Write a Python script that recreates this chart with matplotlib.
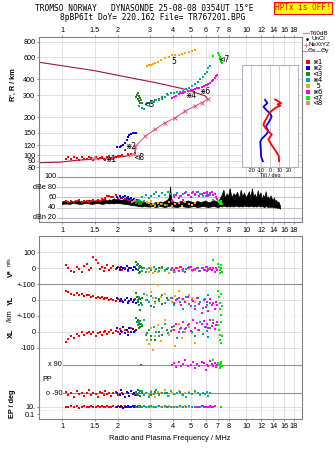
import matplotlib
matplotlib.use('Agg')
import matplotlib.pyplot as plt
from matplotlib.lines import Line2D
from matplotlib.ticker import NullLocator

nan = float('nan')

# ---------------- data ----------------
freq_ticks = [1, 1.5, 2, 3, 4, 5, 6, 7, 8, 10, 12, 14, 16, 18]
freq_labels = ['1', '1.5', '2', '3', '4', '5', '6', '7', '8', '10', '12', '14', '16', '18']
height_ticks = [80, 90, 100, 120, 150, 200, 300, 400, 600, 800]

# echo 1 (red)
f_red = [1.05,1.08,1.12,1.16,1.20,1.24,1.28,1.32,1.36,1.40,1.44,1.48,1.52,1.56,1.60,1.64,1.68,1.72,1.76,1.80,1.85,1.90,1.95,2.00,2.06,2.12,2.20,2.28,2.38,2.50]
h_red = [94,96,93,97,95,92,96,94,93,97,95,92,96,93,95,97,94,92,96,98,95,93,97,99,98,100,110,103,102,104]
db_red = [52,51,53,50,52,54,51,53,52,50,53,55,52,54,53,56,55,58,62,63,60,61,64,59,62,58,57,55,56,53]
v_red = [20,5,-15,-25,10,-5,-20,15,30,-10,5,69,52,35,-5,10,-15,0,20,-10,5,15,-5,10,0,-10,5,-15,0,10]
yl_red = [55,50,40,35,45,30,38,25,30,35,20,28,15,22,12,18,5,10,15,0,8,2,-5,5,0,-8,3,-10,0,5]
xl_red = [-65,-45,-30,-40,-15,-25,-5,-20,-10,0,-15,-5,-25,-10,0,-20,-5,5,-15,0,10,-10,5,-5,15,0,10,-5,20,5]
pp_red = [-80,-100,-90,-110,-75,-95,-85,-105,-90,-70,-100,-85,-95,-110,-80,-90,-100,-75,-95,-85,-105,-90,-80,-100,-95,-85,-110,-90,-75,-100]
ep_red = [10,7,14,9,12,6,11,15,8,10,13,7,10,16,9,12,8,11,14,10,7,12,9,15,10,8,13,11,9,12]

# echo 2 (blue)
f_blue = [1.99,2.05,2.10,2.15,2.20,2.25,2.28,2.32,2.37,2.42,2.47,2.52]
h_blue = [115,117,118,121,125,133,140,145,148,150,151,149]
db_blue = [60,62,59,61,63,58,60,57,59,55,57,54]
v_blue = [5,-10,10,0,-5,13,-8,5,0,-10,8,-3]
yl_blue = [10,-5,5,-15,0,14,-20,-5,8,-10,2,-18]
xl_blue = [20,-15,5,30,-10,10,-20,25,0,15,-5,10]
pp_blue = [-85,-100,-70,-95,-110,-80,-90,-105,-75,-95,-85,-100]
ep_blue = [10,8,12,6,11,9,13,7,10,12,8,10]

# echo 3 (dark green)
f_grn = [2.53,2.55,2.57,2.58,2.60,2.62,2.64,2.66,2.68,2.70,2.90,3.05,3.20,3.35,3.50,3.70]
h_grn = [290,300,310,280,295,270,285,262,275,258,262,267,272,280,288,305]
db_grn = [48,52,50,55,47,51,49,53,46,50,48,45,47,44,46,45]
v_grn = [40,20,-10,30,5,-30,15,-20,10,0,-5,5,-15,0,10,-5]
yl_grn = [42,20,-10,0,-30,15,-62,5,-20,10,0,-40,-15,5,-25,10]
xl_grn = [83,60,70,40,50,21,65,30,45,35,-10,-30,-52,0,-20,10]
pp_grn = [-80,-95,-70,-100,-85,-90,-75,-105,90,-85,-90,-100,-80,-95,-90,-85]
ep_grn = [10,8,12,9,11,7,10,13,9,10,11,8,10,12,9,10]

# echo 4 (cyan)
f_cyn = [2.62,2.70,2.78,2.86,2.95,3.05,3.15,3.25,3.36,3.48,3.60,3.75,3.90,4.05,4.20,4.36,4.52,4.70,4.88,5.06,5.25,5.45,5.62,5.80,5.95,6.10,6.22,6.33]
h_cyn = [245,238,232,253,258,262,266,272,276,282,292,302,312,313,316,319,325,335,345,352,365,385,400,416,438,458,490,515]
db_cyn = [55,60,52,64,58,62,66,70,63,68,65,71,67,64,69,62,66,70,64,68,65,71,67,63,69,66,62,64]
v_cyn = [10,-15,5,-20,0,-10,8,-5,-18,3,-12,5,-8,-20,0,10,-15,-5,8,-10,-2,5,-18,0,-8,10,-12,-5]
yl_cyn = [20,-30,40,0,-15,25,-45,10,-5,30,-20,0,15,-35,5,-10,-60,20,-25,0,-40,10,-15,-50,5,-30,35,-20]
xl_cyn = [60,40,73,-20,10,-52,30,0,-30,20,45,-10,5,35,-40,15,-5,25,50,0,-25,10,60,-15,30,5,-35,20]
pp_cyn = [-90,-75,-100,-85,-110,-80,-95,-70,-100,-90,-85,-105,-75,-95,-90,-80,-100,-110,-85,-95,-75,-90,-100,-85,-95,-80,-105,-90]
ep_cyn = [10,8,12,9,11,13,7,10,12,9,14,8,10,11,7,12,9,10,13,8,11,10,9,12,7,10,11,9]

# echo 5 (orange)
f_org = [2.88,2.95,3.02,3.10,3.20,3.33,3.45,3.62,3.78,3.94,4.10,4.28,4.45,4.65,4.85,5.06,5.27]
h_org = [510,518,525,535,545,554,570,590,605,620,625,630,640,652,660,670,688]
db_org = [50,48,52,46,44,49,47,45,51,43,46,48,44,50,47,45,49]
v_org = [-5,-20,0,-30,-10,-25,5,-15,-28,-8,-20,0,-12,-25,-5,-18,-10]
yl_org = [30,-10,50,10,-20,94,20,40,0,-15,25,60,5,-5,35,10,-10]
xl_org = [-50,-80,20,-114,-30,40,-60,73,-20,10,-90,50,-40,0,30,-10,-70]
pp_org = [-85,-100,-75,-95,-110,-80,-90,-70,-105,-85,-95,-75,-100,-90,-80,-95,-85]
ep_org = [10,12,8,11,9,13,10,7,12,9,11,10,8,12,10,9,11]

# echo 6 (magenta)
f_mag = [3.94,4.05,4.15,4.28,4.40,4.55,4.65,4.80,5.00,5.15,5.27,5.40,5.55,5.72,5.85,6.00,6.10,6.20,6.35,6.50,6.62,6.72,6.81,6.91]
h_mag = [287,290,298,305,310,314,318,322,328,332,335,340,345,351,356,360,363,367,375,386,397,410,423,432]
db_mag = [53,60,65,58,62,55,68,64,60,70,66,71,63,67,69,62,70,65,68,71,64,67,60,56]
v_mag = [5,-10,0,-15,10,-5,-20,0,8,-12,-3,5,-18,0,-8,10,-15,-5,3,-10,0,-20,5,-8]
yl_mag = [10,-20,0,15,-30,5,-10,20,-40,-5,-60,10,-25,-83,0,-45,-15,-70,5,-35,-20,-55,-10,-30]
xl_mag = [30,10,50,0,20,60,15,40,5,73,25,55,10,45,65,30,50,20,70,35,55,15,40,60]
pp_mag = [90,100,75,110,85,95,120,80,90,105,70,95,85,110,100,60,90,80,115,95,85,100,75,90]
ep_mag = [nan,nan,nan,nan,nan,nan,nan,nan,nan,nan,nan,10,8,12,10,9,11,10,13,8,10,12,nan,nan]

# echo 7 (bright green)
f_g7 = [6.62,7.05,7.10,7.15,7.20,7.25,7.30,7.35]
h_g7 = [610,645,625,600,585,570,555,545]
db_g7 = [55,52,50,48,47,53,50,46]
v_g7 = [50,30,10,-10,-30,20,0,-20]
yl_g7 = [100,60,20,-20,-60,-94,40,-40]
xl_g7 = [73,40,10,-20,-50,-73,60,-30]
pp_g7 = [120,100,90,80,70,95,110,85]
ep_g7 = [nan,nan,nan,nan,nan,nan,10,nan]

# echo 8 (salmon)
f_sal = [2.40,2.45,2.50,2.55]
h_sal = [100,102,101,99]
db_sal = [50,53,55,51]

# real-height profile (lower part, rising part, upper returning part)
prof_low_f = [0.75, 0.98, 1.20, 1.50, 1.80, 2.10, 2.40, 2.49, 2.49]
prof_low_h = [87, 88, 91, 93, 95, 97, 100, 104, 117]
prof_mid_f = [2.49, 2.82, 3.19, 3.62, 4.10, 4.65, 5.27, 5.72, 6.20]
prof_mid_h = [117, 141, 160, 181, 198, 224, 246, 262, 278]
prof_up_f = [6.20, 5.96, 5.27, 4.46, 3.19, 2.06, 1.51, 0.75]
prof_up_h = [278, 296, 315, 339, 378, 428, 469, 548]
prof_mark_f = [1.48, 1.53, 1.90, 2.35]
prof_mark_h = [95, 95, 96, 100]

# tilt inset
tilt_x_h = [280,270,262,256,250,240,224,210,198,185,175,165,160,153,146,140,133,127,121,115,110,105,100,95,89]
tilt_x = [5.5,9,12,8,11,6,1,-2,-3.5,-6,-7,-5,-3.5,-1,2,0,-1.8,0,1.5,3.5,5.3,7,8.8,9.5,9.8]
tilt_y_h = [278,262,245,231,217,204,186,170,155,146,135,127,110,97,89]
tilt_y = [-5.3,-2.8,-7,-4.2,0,1.8,-0.9,-4.2,-1.8,-4.2,-8.8,-10.5,-9.8,-9.5,-7.7]

# unclassified amplitude (black band in dB panel)
amp_f = [1.00,1.05,1.10,1.15,1.20,1.25,1.30,1.35,1.40,1.45,1.50,1.55,1.60,1.65,1.70,1.75,1.80,1.85,1.90,1.95,
         2.00,2.10,2.20,2.30,2.40,2.50,2.60,2.70,2.80,2.90,
         3.00,3.10,3.20,3.30,3.40,3.50,3.60,3.70,3.80,3.85,3.90,
         4.00,4.20,4.40,4.60,4.80,5.00,5.20,5.40,5.60,5.80,6.00,6.20,6.40,6.60,6.80,7.00,
         7.20,7.35,7.50,7.65,7.80,7.95,
         8.10,8.30,8.50,8.70,8.90,9.10,9.30,9.50,9.70,9.90,
         10.1,10.3,10.5,10.7,10.9,11.1,11.3,11.5,11.7,11.9,12.1,12.3,12.5,12.7,12.9,13.1,13.3,13.5,13.7,13.9,14.1,14.3,14.5,14.7,14.9,15.1,15.2]
amp_hi = [52,54,51,53,55,52,54,53,55,52,54,56,53,55,57,54,56,55,58,56,
          57,55,58,54,56,52,53,50,51,49,
          50,48,51,49,52,50,53,55,60,82,58,
          52,50,53,51,54,52,50,53,51,52,54,50,52,55,53,51,
          60,66,75,58,68,62,
          78,60,68,64,71,58,75,62,70,60,
          65,72,60,78,62,67,58,74,63,70,56,65,60,72,58,62,56,64,58,55,60,52,55,49,52,46,44]
amp_lo = [47,48,47,49,48,47,48,49,48,47,48,49,48,47,48,49,48,49,48,49,
          49,48,47,46,45,44,43,42,43,42,
          42,43,41,42,43,42,41,42,43,44,42,
          42,41,43,42,41,42,43,41,42,43,42,41,42,43,42,41,
          43,42,44,43,42,43,
          42,43,42,44,43,42,43,42,44,43,
          43,42,44,43,42,43,42,44,43,42,43,42,41,43,42,41,42,41,42,40,41,40,41,39,40,39,38]

# ---------------- figure ----------------
W, H = 335, 451
fig = plt.figure(figsize=(W / 100, H / 100), dpi=100)
fig.patch.set_facecolor('white')
SANS = 'Liberation Sans'
MONO = 'DejaVu Sans Mono'
FS = 5.2
FRAME = '#808080'
GRID = '#dcdcdc'
DARK = '#909090'

def rect(x0, y0, x1, y1):
    return [x0 / W, 1 - y1 / H, (x1 - x0) / W, (y1 - y0) / H]

def base(ax, spines):
    ax.set_xscale('log')
    ax.set_xlim(0.75, 20)
    ax.set_xticks(freq_ticks)
    ax.set_xticklabels(freq_labels, fontsize=FS, family=SANS)
    ax.xaxis.set_minor_locator(NullLocator())
    ax.grid(axis='x', which='major', color=GRID, lw=0.6)
    ax.set_axisbelow(True)
    for k, s in ax.spines.items():
        s.set_visible(k in spines)
        s.set_color(FRAME)
        s.set_linewidth(0.8)
    ax.tick_params(axis='both', colors=FRAME, labelcolor='black', labelsize=FS,
                   length=1.5, width=0.6, pad=1.2)
    ax.tick_params(axis='x', bottom=False, labelbottom=False, top=False, labeltop=False)

colors = {'1': '#ff0000', '2': '#0000ff', '3': '#1f8a1f', '4': '#00aaaa',
          '5': '#ffa500', '6': '#ff00ff', '7': '#00ee00', '8': '#f08080'}
MS = 4.6

def pts(ax, x, y, c, z=3):
    ax.scatter(x, y, s=MS, marker='s', c=c, linewidths=0, zorder=z)

# ---- height panel ----
ax_h = fig.add_axes(rect(39, 37, 302, 177))
base(ax_h, ['top', 'left', 'right'])
ax_h.set_yscale('log')
ax_h.set_ylim(67, 870)
ax_h.set_yticks(height_ticks)
ax_h.set_yticklabels([str(v) for v in height_ticks], fontsize=FS, family=SANS)
ax_h.yaxis.set_minor_locator(NullLocator())
ax_h.grid(axis='y', which='major', color=GRID, lw=0.6)
ax_h.tick_params(axis='x', top=True, labeltop=True, pad=1.0)

ax_h.plot(prof_low_f, prof_low_h, color='#a0163c', lw=0.8, zorder=2)
ax_h.plot(prof_up_f, prof_up_h, color='#a0163c', lw=0.8, zorder=2)
ax_h.plot(prof_mid_f, prof_mid_h, color='#d84a78', lw=0.7, marker='x', ms=2.4, mew=0.6, zorder=2)
ax_h.plot(prof_mark_f, prof_mark_h, ls='none', color='#e07898', marker='x', ms=2.4, mew=0.6, zorder=4)

pts(ax_h, f_red, h_red, colors['1'])
pts(ax_h, f_blue, h_blue, colors['2'])
pts(ax_h, f_grn, h_grn, colors['3'])
pts(ax_h, f_cyn, h_cyn, colors['4'])
pts(ax_h, f_org, h_org, colors['5'])
pts(ax_h, f_mag, h_mag, colors['6'])
pts(ax_h, f_g7, h_g7, colors['7'])
pts(ax_h, f_sal, h_sal, colors['8'])

tag_font = dict(fontsize=5.5, family=['DejaVu Sans'], ha='center', va='center', zorder=6)
ax_h.text(1.84, 92, '⋇1', **tag_font)
ax_h.text(2.36, 117, '⋇2', **tag_font)
ax_h.text(2.96, 253, '⊲3', **tag_font)
ax_h.text(5.0, 300, '⋇4', **tag_font)
ax_h.text(4.02, 560, '5', **tag_font)
ax_h.text(5.96, 318, '⋇6', **tag_font)
ax_h.text(7.55, 575, '⊲7', **tag_font)
ax_h.text(2.62, 96, '⊲8', **tag_font)

# ---- tilt inset ----
ax_t = fig.add_axes(rect(242, 65, 298, 167))
ax_t.set_facecolor('white')
ax_t.set_yscale('log')
ax_t.set_ylim(80, 531)
ax_t.set_xlim(-30, 30)
ax_t.set_yticks([])
ax_t.yaxis.set_minor_locator(NullLocator())
ax_t.set_xticks([-20, -10, 0, 10, 20])
ax_t.set_xticklabels(['-20', '-10', '0', '10', '20'], fontsize=3.9, family=SANS)
ax_t.grid(axis='x', color='#c8c8c8', lw=0.6)
ax_t.tick_params(length=0, pad=1.0, labelsize=3.9)
for s in ax_t.spines.values():
    s.set_color('#b0b0c0')
    s.set_linewidth(0.8)
ax_t.set_xlabel('Tilt / deg', fontsize=3.9, family=SANS, labelpad=0.0)
ax_t.plot(tilt_y, tilt_y_h, color='#0000ff', lw=1.3)
ax_t.plot(tilt_x, tilt_x_h, color='#ff0000', lw=1.3)

# ---- dB panel ----
ax_d = fig.add_axes(rect(39, 177, 302, 222.3))
base(ax_d, ['bottom', 'left', 'right'])
ax_d.set_ylim(11, 100)
ax_d.set_yticks([])
ax_d.tick_params(axis='x', bottom=True, labelbottom=True, pad=1.8)
for lev, col in [(100, DARK), (80, '#c8c8c8'), (60, '#c8c8c8'), (40, '#c8c8c8'), (20, '#b4b4e6')]:
    ax_d.axhline(lev, xmin=0.068, color=col, lw=0.8, zorder=1, clip_on=False)
lab_tr = ax_d.get_yaxis_transform()
for lev, txt in [(100, '100'), (80, 'dBe 80'), (60, '60'), (40, '40'), (20, 'dBn 20')]:
    ax_d.text(0.066, lev, txt, transform=lab_tr, ha='right', va='center', fontsize=FS, family=SANS)
ax_d.fill_between(amp_f, amp_lo, amp_hi, color='black', lw=0.5, zorder=2)
pts(ax_d, f_red, db_red, colors['1'])
pts(ax_d, f_blue, db_blue, colors['2'])
pts(ax_d, f_sal, db_sal, colors['8'])
pts(ax_d, f_grn, db_grn, colors['3'])
pts(ax_d, f_org, db_org, colors['5'])
pts(ax_d, f_cyn, db_cyn, colors['4'])
pts(ax_d, f_mag, db_mag, colors['6'])
pts(ax_d, f_g7, db_g7, colors['7'])

# ---- lower panels ----
series = [(f_red, v_red, yl_red, xl_red, pp_red, ep_red, colors['1']),
          (f_blue, v_blue, yl_blue, xl_blue, pp_blue, ep_blue, colors['2']),
          (f_grn, v_grn, yl_grn, xl_grn, pp_grn, ep_grn, colors['3']),
          (f_org, v_org, yl_org, xl_org, pp_org, ep_org, colors['5']),
          (f_cyn, v_cyn, yl_cyn, xl_cyn, pp_cyn, ep_cyn, colors['4']),
          (f_mag, v_mag, yl_mag, xl_mag, pp_mag, ep_mag, colors['6']),
          (f_g7, v_g7, yl_g7, xl_g7, pp_g7, ep_g7, colors['7'])]

ax_v = fig.add_axes(rect(39, 236, 302, 284.3))
base(ax_v, ['top', 'left', 'right'])
ax_v.set_ylim(-100, 202)
ax_v.set_yticks([0, 100])
ax_v.set_yticklabels(['0', '100'], fontsize=FS, family=SANS)
ax_v.axhline(0, color=GRID, lw=0.6, zorder=1)
ax_v.axhline(100, color=GRID, lw=0.6, zorder=1)

ax_y = fig.add_axes(rect(39, 284.3, 302, 315.7))
base(ax_y, ['left', 'right'])
ax_y.set_ylim(-100, 100)
ax_y.set_yticks([-100, 0, 100])
ax_y.set_yticklabels(['+-100', '0', '+-100'], fontsize=FS, family=SANS)
ax_y.axhline(0, color=GRID, lw=0.6, zorder=1)
ax_y.axhline(100, color=DARK, lw=0.8, zorder=1, clip_on=False)
ax_y.axhline(-100, color=DARK, lw=0.8, zorder=1, clip_on=False)

ax_x = fig.add_axes(rect(39, 315.7, 302, 356))
base(ax_x, ['left', 'right'])
ax_x.set_ylim(-152, 100)
ax_x.set_yticks([-100, 0])
ax_x.set_yticklabels(['-100', '0'], fontsize=FS, family=SANS)
ax_x.axhline(0, color=GRID, lw=0.6, zorder=1)
ax_x.axhline(-100, color=GRID, lw=0.6, zorder=1)

ax_p = fig.add_axes(rect(39, 356, 302, 400))
base(ax_p, ['left', 'right'])
ax_p.set_ylim(-132, 145)
ax_p.set_yticks([])
ax_p.axhline(90, xmin=0.09, color=DARK, lw=0.8, zorder=1)
ax_p.axhline(-90, xmin=0.09, color=DARK, lw=0.8, zorder=1)
ptr = ax_p.get_yaxis_transform()
ax_p.text(0.088, 90, 'x 90', transform=ptr, ha='right', va='center', fontsize=FS, family=SANS)
ax_p.text(0.088, -90, 'o -90', transform=ptr, ha='right', va='center', fontsize=FS, family=SANS)
ax_p.text(0.012, -6, 'PP', transform=ptr, ha='left', va='center', fontsize=FS, family=SANS)

ax_e = fig.add_axes(rect(39, 400, 302, 419))
base(ax_e, ['left', 'right', 'bottom'])
ax_e.set_yscale('log')
ax_e.set_ylim(0.0043, 684)
ax_e.set_yticks([0.1, 10])
ax_e.set_yticklabels(['0.1', '10.'], fontsize=FS, family=SANS)
ax_e.yaxis.set_minor_locator(NullLocator())
ax_e.axhline(10, color=GRID, lw=0.6, zorder=1)
ax_e.axhline(1.2, color='#ececec', lw=0.6, zorder=1)
ax_e.tick_params(axis='x', bottom=True, labelbottom=True, pad=1.2)

for f, v, yl, xl, pp, ep, c in series:
    pts(ax_v, f, v, c)
    pts(ax_y, f, yl, c)
    pts(ax_x, f, xl, c)
    pts(ax_p, f, pp, c)
    pts(ax_e, f, ep, c)

# ---- axis labels ----
def ftext(px, py, s, **kw):
    kw.setdefault('fontsize', FS)
    kw.setdefault('family', SANS)
    fig.text(px / W, 1 - py / H, s, **kw)

ftext(13, 85, "R', R / km", rotation=90, ha='center', va='center', weight='bold')
ftext(11, 273, 'V*', rotation=90, ha='center', va='center', weight='bold')
ftext(9, 262, 'm/s', rotation=90, ha='center', va='center', fontsize=4.0)
ftext(11, 300, 'YL', rotation=90, ha='center', va='center', weight='bold')
ftext(11, 316, '/km', rotation=90, ha='center', va='center')
ftext(11, 333, 'XL', rotation=90, ha='center', va='center', weight='bold')
ftext(13, 404, 'EP / deg', rotation=90, ha='center', va='center', weight='bold')
ftext(170, 439, 'Radio and Plasma Frequency / MHz', ha='center', va='center', fontsize=5.4)

# ---- titles ----
ftext(35, 8.5, 'TROMSO NORWAY   DYNASONDE 25-08-08 0354UT 15°E', family=MONO, fontsize=5.7,
      ha='left', va='center')
ftext(60, 17.5, '8pBP6It DoY= 220.162 File= TR767201.BPG', family=MONO, fontsize=5.7,
      ha='left', va='center')
ftext(303, 8, 'HPTx is OFF!', family=MONO, fontsize=5.6, color='red', ha='center', va='center',
      bbox=dict(boxstyle='square,pad=0.2', facecolor='#ffff00', edgecolor='red', lw=0.8))

# ---- legend ----
def fline(x0, x1, py, **kw):
    fig.add_artist(Line2D([x0 / W, x1 / W], [1 - py / H, 1 - py / H], transform=fig.transFigure, **kw))

LFS = 4.5
fline(303, 308.5, 33.3, color='#a0a0a0', lw=0.9)
ftext(310, 33.3, 'T60dB', ha='left', va='center', fontsize=LFS)
fig.add_artist(Line2D([306.5 / W], [1 - 39 / H], transform=fig.transFigure, marker='.', ms=1.8,
                      color='black', ls='none'))
ftext(311, 39, 'UnCl', ha='left', va='center', fontsize=LFS)
fig.add_artist(Line2D([305.5 / W], [1 - 45 / H], transform=fig.transFigure, marker='+', ms=3.2,
                      mew=0.7, color='#e07898', ls='none'))
ftext(308.5, 45, 'NeXtYZ', ha='left', va='center', fontsize=LFS)
fline(303, 307, 50.7, color='#e08080', lw=0.8)
ftext(307.5, 50.7, 'Θx', ha='left', va='center', fontsize=LFS, family=['DejaVu Sans'])
fline(315.5, 320, 50.7, color='#8080ff', lw=0.8)
ftext(320.5, 50.7, 'Θy', ha='left', va='center', fontsize=LFS, family=['DejaVu Sans'])

leg_items = [('1', '⋇1', 61.7), ('2', '⋇2', 67.7), ('3', '⊲3', 74.3), ('4', '⋇4', 80.0),
             ('5', '  5', 86.0), ('6', '⋇6', 91.7), ('7', '⊲7', 97.7), ('8', '⊲8', 103.3)]
for key, lab, py in leg_items:
    fig.add_artist(Line2D([307.7 / W], [1 - py / H], transform=fig.transFigure, marker='s', ms=2.2,
                          color=colors[key], mew=0, ls='none'))
    ftext(312, py, lab, ha='left', va='center', fontsize=5.0, family=['DejaVu Sans'])

fig.savefig('out.png', dpi=100)
